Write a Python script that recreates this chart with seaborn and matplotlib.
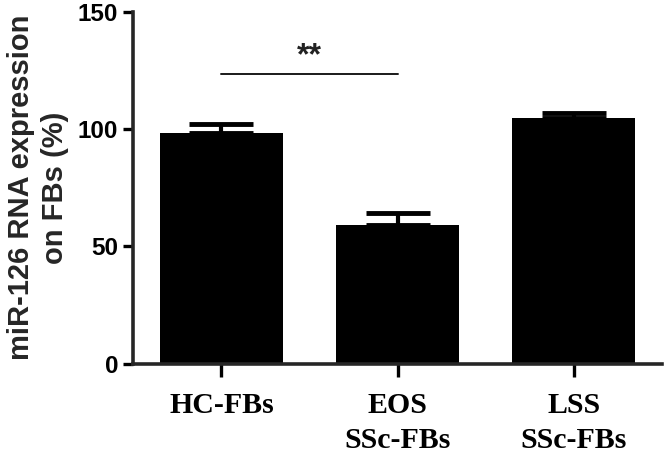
# plot_mir126.py
import matplotlib
matplotlib.use("Agg")
import matplotlib.pyplot as plt
import seaborn as sns

# ============ DATA =============
groups = ["HC-FBs", "EOS\nSSc-FBs", "LSS\nSSc-FBs"]
means = [98.3, 59.0, 104.6]
sem = [3.7, 5.2, 2.1]
y_ticks = [0, 50, 100, 150]
sig_pair = (0, 1)      # HC-FBs vs EOS SSc-FBs
sig_level = 123.4
sig_text = "**"
# ================================

sns.set_style("ticks")
plt.rcParams['font.family'] = ['Liberation Sans', 'DejaVu Sans']

fig = plt.figure(figsize=(6.64, 4.54), dpi=100)
ax = fig.add_axes([0.201, 0.1993, 0.7955, 0.7743])

sns.barplot(x=groups, y=means, color="black", errorbar=None, width=0.7,
            saturation=1, linewidth=0, ax=ax)

# one-sided error bars (upper only)
ax.errorbar(range(len(groups)), means, yerr=[[0] * len(sem), sem], fmt="none",
            ecolor="black", elinewidth=3.0, capsize=23, capthick=3.5)

# significance bar
ax.plot(sig_pair, [sig_level, sig_level], color="#1a1a1a", lw=1.4)
ax.text(sum(sig_pair) / 2, sig_level + 7.5, sig_text, ha="center", va="center",
        fontsize=23, fontweight="bold", color="#222222")

ax.set_ylim(0, 150)
ax.set_xlim(-0.5, 2.5)
ax.set_yticks(y_ticks)
ax.set_yticklabels([str(t) for t in y_ticks], fontsize=17.5, fontweight="bold")
for lab in ax.get_xticklabels():
    lab.set_fontfamily(["Liberation Serif", "DejaVu Serif"])
    lab.set_fontsize(21.5)
    lab.set_fontweight("bold")
    lab.set_linespacing(1.4)

ax.set_ylabel("miR-126 RNA expression\non FBs (%)", fontsize=21,
              fontweight="bold", linespacing=1.3, labelpad=6)

sns.despine(ax=ax)
for side in ["left", "bottom"]:
    ax.spines[side].set_linewidth(2.6)
ax.tick_params(axis="y", length=7.5, width=2.4, pad=3.5, colors="black")
ax.tick_params(axis="x", length=9.5, width=2.4, pad=11, colors="black")

fig.savefig("out.png", dpi=100)
